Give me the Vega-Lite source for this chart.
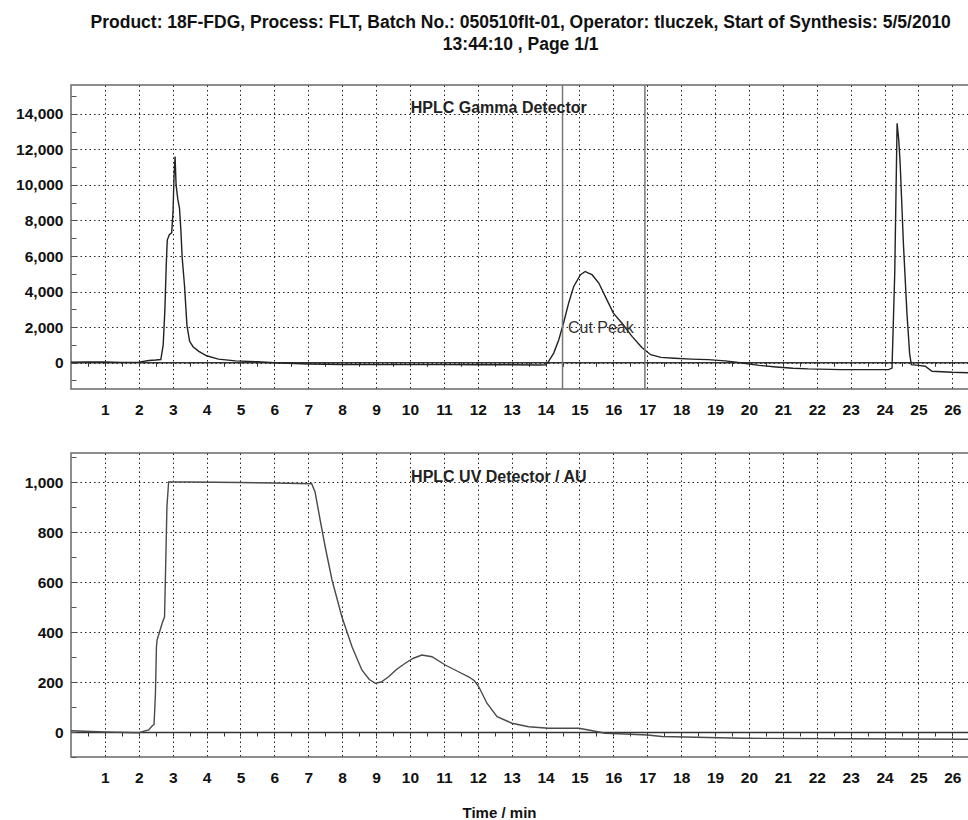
{
  "$schema": "https://vega.github.io/schema/vega-lite/v6.json",
  "padding": {"left": 14, "top": 13, "right": 0, "bottom": 0},
  "background": "white",
  "title": {
    "text": ["Product: 18F-FDG, Process: FLT, Batch No.: 050510flt-01, Operator: tluczek, Start of Synthesis: 5/5/2010", "13:44:10 , Page 1/1"],
    "font": "Liberation Sans",
    "fontSize": 17.5,
    "fontWeight": "bold",
    "lineHeight": 22,
    "anchor": "middle",
    "dx": 26,
    "color": "#111",
    "offset": 30.5
  },
  "datasets": {
    "gamma": [
      {"t": 0, "v": 30}, {"t": 0.5, "v": 40}, {"t": 1.0, "v": 40}, {"t": 1.5, "v": 20}, {"t": 2.0, "v": 30},
      {"t": 2.3, "v": 120}, {"t": 2.5, "v": 150}, {"t": 2.65, "v": 180}, {"t": 2.72, "v": 1000}, {"t": 2.77, "v": 3000},
      {"t": 2.81, "v": 5500}, {"t": 2.84, "v": 6900}, {"t": 2.9, "v": 7200}, {"t": 2.97, "v": 7300}, {"t": 3.01, "v": 8500},
      {"t": 3.04, "v": 10500}, {"t": 3.07, "v": 11600}, {"t": 3.1, "v": 10000}, {"t": 3.15, "v": 9200}, {"t": 3.2, "v": 8700},
      {"t": 3.24, "v": 7500}, {"t": 3.28, "v": 5900}, {"t": 3.35, "v": 4300}, {"t": 3.42, "v": 2100}, {"t": 3.5, "v": 1200},
      {"t": 3.6, "v": 900}, {"t": 3.77, "v": 640}, {"t": 4.0, "v": 390}, {"t": 4.35, "v": 200}, {"t": 4.85, "v": 100},
      {"t": 5.5, "v": 50}, {"t": 6.0, "v": 0}, {"t": 7.0, "v": -70}, {"t": 8.0, "v": -100}, {"t": 9.0, "v": -110},
      {"t": 10.0, "v": -110}, {"t": 11.0, "v": -110}, {"t": 12.0, "v": -115}, {"t": 13.0, "v": -120}, {"t": 13.8, "v": -130},
      {"t": 14.0, "v": -120}, {"t": 14.09, "v": 75}, {"t": 14.24, "v": 540}, {"t": 14.39, "v": 1290}, {"t": 14.53, "v": 2230},
      {"t": 14.68, "v": 3350}, {"t": 14.83, "v": 4290}, {"t": 15.03, "v": 4950}, {"t": 15.17, "v": 5130}, {"t": 15.25, "v": 5050},
      {"t": 15.37, "v": 4950}, {"t": 15.57, "v": 4480}, {"t": 15.76, "v": 3730}, {"t": 16.0, "v": 2790}, {"t": 16.25, "v": 2230},
      {"t": 16.55, "v": 1480}, {"t": 16.84, "v": 850}, {"t": 17.1, "v": 450}, {"t": 17.4, "v": 300}, {"t": 17.8, "v": 250},
      {"t": 18.3, "v": 200}, {"t": 18.8, "v": 170}, {"t": 19.3, "v": 100}, {"t": 19.8, "v": -20}, {"t": 20.3, "v": -150},
      {"t": 20.8, "v": -240}, {"t": 21.3, "v": -310}, {"t": 21.75, "v": -350}, {"t": 22.7, "v": -390}, {"t": 23.5, "v": -390},
      {"t": 24.12, "v": -390}, {"t": 24.22, "v": -300}, {"t": 24.3, "v": 5000}, {"t": 24.37, "v": 13470}, {"t": 24.42, "v": 12500},
      {"t": 24.46, "v": 11200}, {"t": 24.56, "v": 6540}, {"t": 24.66, "v": 2790}, {"t": 24.74, "v": 500}, {"t": 24.79, "v": -110},
      {"t": 25.0, "v": -150}, {"t": 25.2, "v": -200}, {"t": 25.4, "v": -480}, {"t": 26.0, "v": -540}, {"t": 26.55, "v": -570}
    ],
    "uv": [
      {"t": 0, "v": 5}, {"t": 1, "v": 0}, {"t": 2, "v": -3}, {"t": 2.29, "v": 8}, {"t": 2.4, "v": 25},
      {"t": 2.45, "v": 30}, {"t": 2.49, "v": 150}, {"t": 2.52, "v": 340}, {"t": 2.54, "v": 368}, {"t": 2.6, "v": 395},
      {"t": 2.69, "v": 435}, {"t": 2.76, "v": 461}, {"t": 2.79, "v": 648}, {"t": 2.83, "v": 901}, {"t": 2.88, "v": 1000},
      {"t": 3.5, "v": 1000}, {"t": 5.0, "v": 998}, {"t": 6.0, "v": 996}, {"t": 7.1, "v": 993}, {"t": 7.2, "v": 960},
      {"t": 7.35, "v": 848}, {"t": 7.5, "v": 740}, {"t": 7.7, "v": 608}, {"t": 7.99, "v": 461}, {"t": 8.29, "v": 341},
      {"t": 8.58, "v": 248}, {"t": 8.8, "v": 210}, {"t": 8.98, "v": 195}, {"t": 9.15, "v": 200}, {"t": 9.37, "v": 221},
      {"t": 9.6, "v": 250}, {"t": 9.86, "v": 275}, {"t": 10.1, "v": 295}, {"t": 10.35, "v": 308}, {"t": 10.65, "v": 301},
      {"t": 11.04, "v": 268}, {"t": 11.43, "v": 241}, {"t": 11.73, "v": 221}, {"t": 11.9, "v": 205}, {"t": 12.03, "v": 181},
      {"t": 12.27, "v": 115}, {"t": 12.57, "v": 61}, {"t": 13.01, "v": 35}, {"t": 13.5, "v": 21}, {"t": 14.09, "v": 15},
      {"t": 14.98, "v": 15}, {"t": 15.27, "v": 8}, {"t": 15.76, "v": -5}, {"t": 16.35, "v": -8}, {"t": 17.0, "v": -12},
      {"t": 17.43, "v": -18}, {"t": 19.8, "v": -25}, {"t": 23, "v": -27}, {"t": 26.55, "v": -29}
    ],
    "cuts": [{"cut": 14.5}, {"cut": 16.93}]
  },
  "bounds": "flush",
  "spacing": 64,
  "vconcat": [
    {
      "width": 900,
      "height": 304,
      "resolve": {"axis": {"x": "independent", "y": "independent"}},
      "layer": [
        {
          "data": {"name": "gamma"},
          "mark": {"type": "line", "color": "#222", "strokeWidth": 1.4},
          "encoding": {
            "x": {"field": "t", "type": "quantitative", "scale": {"domain": [0, 26.55], "nice": false, "zero": false},
                  "axis": {"values": [1,2,3,4,5,6,7,8,9,10,11,12,13,14,15,16,17,18,19,20,21,22,23,24,25,26], "format": "d", "grid": true, "labelPadding": 13, "title": null}},
            "y": {"field": "v", "type": "quantitative", "scale": {"domain": [-1480, 15620], "nice": false, "zero": false},
                  "axis": {"values": [0,2000,4000,6000,8000,10000,12000,14000], "format": ",.0f", "grid": true, "labelPadding": 8, "title": null}}
          }
        },
        {
          "data": {"name": "cuts"},
          "mark": {"type": "rule", "color": "#777", "strokeWidth": 1.5},
          "encoding": {"x": {"field": "cut", "type": "quantitative", "axis": null}}
        },
        {
          "data": {"values": [{}]},
          "mark": {"type": "text", "text": "HPLC Gamma Detector", "font": "Liberation Sans", "fontSize": 16, "fontWeight": "bold", "color": "#222", "baseline": "middle", "align": "center"},
          "encoding": {
            "x": {"datum": 12.62, "type": "quantitative",
                  "axis": {"orient": "bottom", "offset": -26.7, "labels": false, "grid": false, "domain": true, "domainColor": "#333", "domainWidth": 1.5, "ticks": true, "tickSize": 4, "tickColor": "#333", "title": null,
                           "values": [0.5,1,1.5,2,2.5,3,3.5,4,4.5,5,5.5,6,6.5,7,7.5,8,8.5,9,9.5,10,10.5,11,11.5,12,12.5,13,13.5,14,14.5,15,15.5,16,16.5,17,17.5,18,18.5,19,19.5,20,20.5,21,21.5,22,22.5,23,23.5,24,24.5,25,25.5,26,26.5]}},
            "y": {"datum": 14330, "type": "quantitative",
                  "axis": {"orient": "left", "offset": -5, "labels": false, "grid": false, "domain": false, "ticks": true, "tickSize": 5, "tickColor": "#555", "title": null,
                           "values": [-1000,0,1000,2000,3000,4000,5000,6000,7000,8000,9000,10000,11000,12000,13000,14000,15000]}}
          }
        },
        {
          "data": {"values": [{}]},
          "mark": {"type": "text", "text": "Cut Peak", "font": "Liberation Sans", "fontSize": 16, "color": "#333", "baseline": "middle", "align": "left"},
          "encoding": {
            "x": {"datum": 14.66, "type": "quantitative", "axis": null},
            "y": {"datum": 1970, "type": "quantitative", "axis": null}
          }
        }
      ]
    },
    {
      "width": 900,
      "height": 304,
      "resolve": {"axis": {"x": "independent", "y": "independent"}},
      "layer": [
        {
          "data": {"name": "uv"},
          "mark": {"type": "line", "color": "#4a4a4a", "strokeWidth": 1.4},
          "encoding": {
            "x": {"field": "t", "type": "quantitative", "scale": {"domain": [0, 26.55], "nice": false, "zero": false},
                  "axis": {"values": [1,2,3,4,5,6,7,8,9,10,11,12,13,14,15,16,17,18,19,20,21,22,23,24,25,26], "format": "d", "grid": true, "labelPadding": 13,
                           "title": "Time / min", "titleX": 428, "titlePadding": 20, "titleFont": "Liberation Sans", "titleFontSize": 15, "titleFontWeight": "bold", "titleColor": "#111"}},
            "y": {"field": "v", "type": "quantitative", "scale": {"domain": [-100, 1116], "nice": false, "zero": false},
                  "axis": {"values": [0,200,400,600,800,1000], "format": ",.0f", "grid": true, "labelPadding": 8, "title": null}}
          }
        },
        {
          "data": {"values": [{}]},
          "mark": {"type": "text", "text": "HPLC UV Detector / AU", "font": "Liberation Sans", "fontSize": 16, "fontWeight": "bold", "color": "#222", "baseline": "middle", "align": "center"},
          "encoding": {
            "x": {"datum": 12.62, "type": "quantitative",
                  "axis": {"orient": "bottom", "offset": -25, "labels": false, "grid": false, "domain": true, "domainColor": "#333", "domainWidth": 1.5, "ticks": true, "tickSize": 4, "tickColor": "#333", "title": null,
                           "values": [0.5,1,1.5,2,2.5,3,3.5,4,4.5,5,5.5,6,6.5,7,7.5,8,8.5,9,9.5,10,10.5,11,11.5,12,12.5,13,13.5,14,14.5,15,15.5,16,16.5,17,17.5,18,18.5,19,19.5,20,20.5,21,21.5,22,22.5,23,23.5,24,24.5,25,25.5,26,26.5]}},
            "y": {"datum": 1020, "type": "quantitative",
                  "axis": {"orient": "left", "offset": -5, "labels": false, "grid": false, "domain": false, "ticks": true, "tickSize": 5, "tickColor": "#555", "title": null,
                           "values": [-100,0,100,200,300,400,500,600,700,800,900,1000,1100]}}
          }
        }
      ]
    }
  ],
  "config": {
    "font": "Liberation Sans",
    "view": {"stroke": "#6a6a6a", "strokeWidth": 1.5},
    "axis": {
      "domain": false,
      "ticks": false,
      "labelFont": "Liberation Sans",
      "labelFontSize": 15.5,
      "labelFontWeight": "bold",
      "labelColor": "#111",
      "gridColor": "#222",
      "gridDash": [1.5, 3],
      "gridWidth": 1
    }
  }
}
